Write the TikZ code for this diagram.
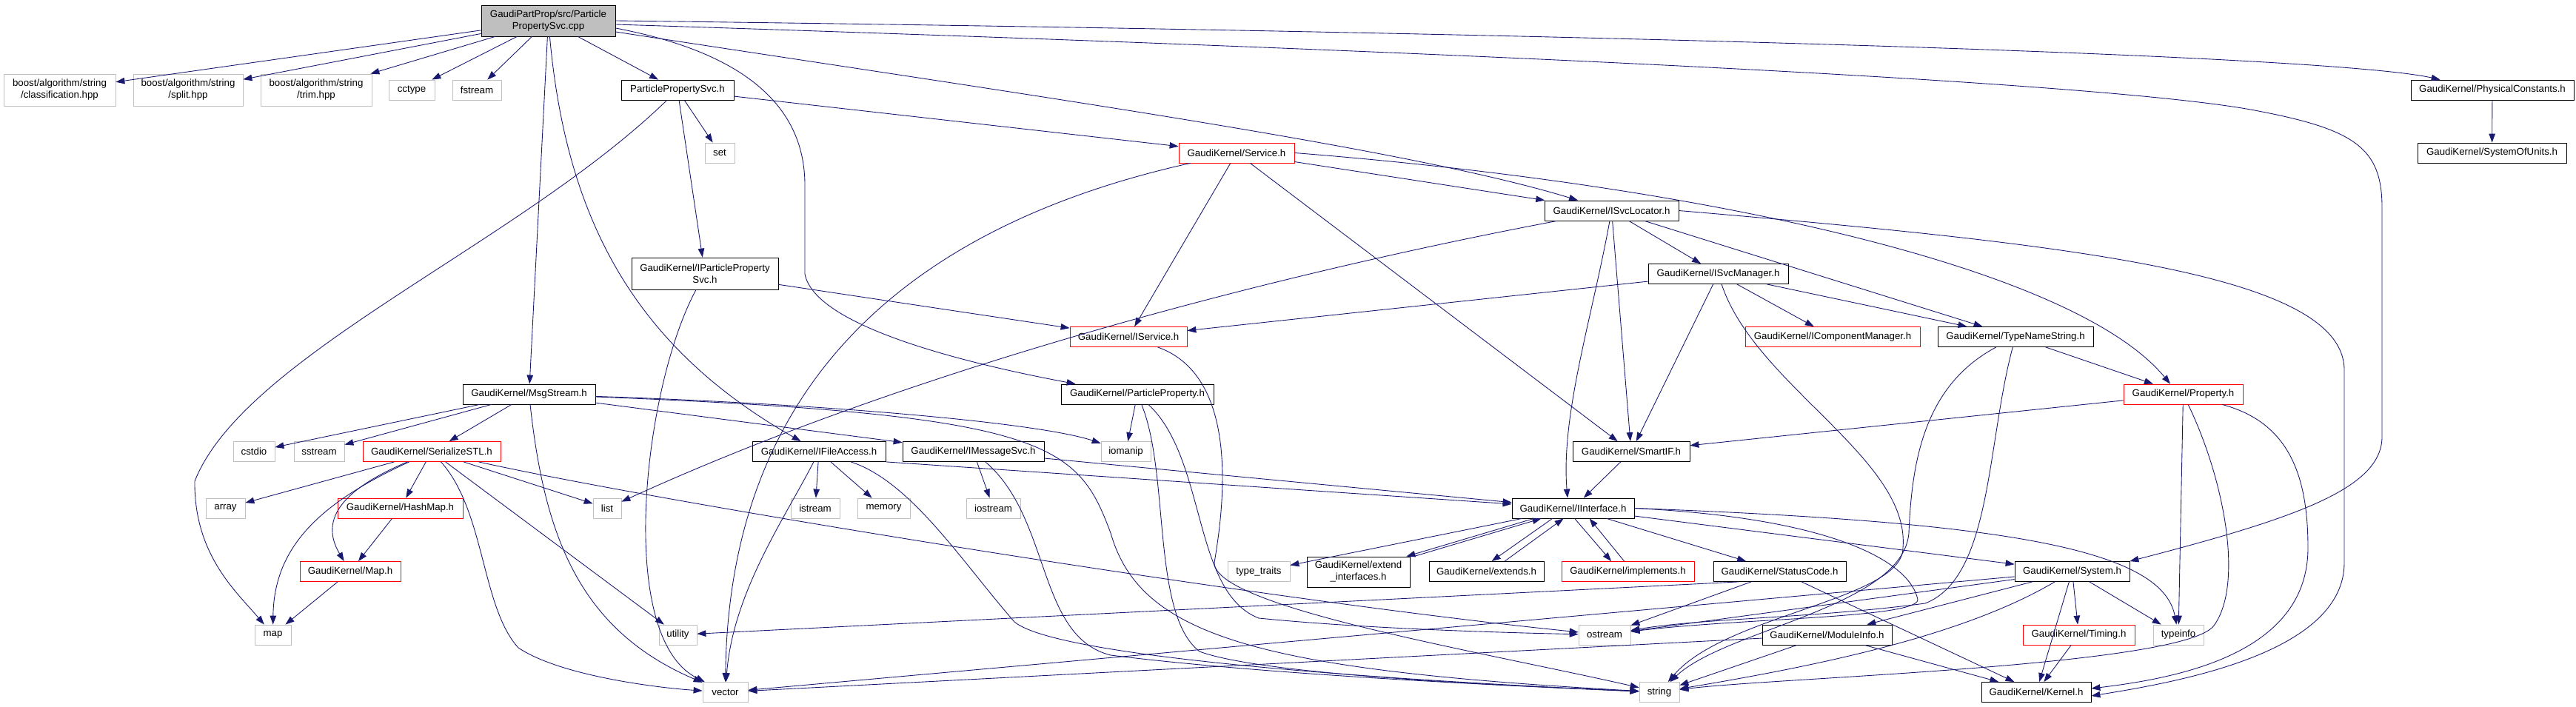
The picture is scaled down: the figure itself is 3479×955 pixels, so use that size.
\documentclass[tikz,border=0pt]{standalone}
\usepackage{fontspec}
\setmainfont{Liberation Sans}
\usetikzlibrary{arrows.meta}
\definecolor{navyedge}{RGB}{25,25,112}
\definecolor{graybox}{RGB}{191,191,191}

\begin{document}
\begin{tikzpicture}[x=0.02cm, y=-0.02cm, >={Triangle[length=0.24cm,width=0.17cm]},
    file/.style={draw=black, line width=0.45pt, inner sep=0pt, minimum height=0.54cm, align=center, font=\fontsize{7.55}{9.1}\selectfont},
    sysfile/.style={file, draw=graybox},
    trunc/.style={file, draw=red},
    edge/.style={->, draw=navyedge, line width=0.5pt}]
    \useasboundingbox (0,0) rectangle (3479,955);

    \node[file, fill=graybox, minimum width=3.62cm, minimum height=0.84cm] (main) at (740.5,28) {GaudiPartProp/src/Particle\\PropertySvc.cpp};
    \node[sysfile, minimum width=3.02cm, minimum height=0.86cm] (bcls) at (80.5,121.5) {boost/algorithm/string\\/classification.hpp};
    \node[sysfile, minimum width=2.96cm, minimum height=0.86cm] (bsplit) at (254,121.5) {boost/algorithm/string\\/split.hpp};
    \node[sysfile, minimum width=3.00cm, minimum height=0.86cm] (btrim) at (427,121.5) {boost/algorithm/string\\/trim.hpp};
    \node[sysfile, minimum width=1.24cm] (cctype) at (556,121.5) {cctype};
    \node[sysfile, minimum width=1.32cm] (fstream) at (644,121.5) {fstream};
    \node[file, minimum width=3.04cm] (ppsvch) at (915,121.5) {ParticlePropertySvc.h};
    \node[file, minimum width=4.40cm] (physconst) at (3366,121.5) {GaudiKernel/PhysicalConstants.h};
    \node[sysfile, minimum width=0.80cm] (set) at (972,206.5) {set};
    \node[trunc, minimum width=3.12cm] (service) at (1670,206.5) {GaudiKernel/Service.h};
    \node[file, minimum width=4.02cm] (sysunits) at (3365.5,206.5) {GaudiKernel/SystemOfUnits.h};
    \node[file, minimum width=3.62cm] (isvcloc) at (2176.5,284.5) {GaudiKernel/ISvcLocator.h};
    \node[file, minimum width=3.96cm, minimum height=0.86cm] (ippsvc) at (952,369.5) {GaudiKernel/IParticleProperty\\Svc.h};
    \node[file, minimum width=3.78cm] (isvcmgr) at (2320.5,370) {GaudiKernel/ISvcManager.h};
    \node[trunc, minimum width=3.16cm] (iservice) at (1524,455) {GaudiKernel/IService.h};
    \node[trunc, minimum width=4.72cm] (icompmgr) at (2475,455) {GaudiKernel/IComponentManager.h};
    \node[file, minimum width=4.20cm] (typename) at (2722,455) {GaudiKernel/TypeNameString.h};
    \node[file, minimum width=3.58cm] (msgstream) at (714.5,532.5) {GaudiKernel/MsgStream.h};
    \node[file, minimum width=4.12cm] (ppropert) at (1536,532.5) {GaudiKernel/ParticleProperty.h};
    \node[trunc, minimum width=3.22cm] (property) at (2948.5,532.5) {GaudiKernel/Property.h};
    \node[sysfile, minimum width=1.12cm] (cstdio) at (343,610) {cstdio};
    \node[sysfile, minimum width=1.36cm] (sstream) at (431,610) {sstream};
    \node[trunc, minimum width=3.72cm] (serialize) at (583,610) {GaudiKernel/SerializeSTL.h};
    \node[file, minimum width=3.60cm] (ifileacc) at (1106,610) {GaudiKernel/IFileAccess.h};
    \node[file, minimum width=3.82cm] (imsgsvc) at (1314.5,610) {GaudiKernel/IMessageSvc.h};
    \node[sysfile, minimum width=1.34cm] (iomanip) at (1520.5,610) {iomanip};
    \node[file, minimum width=3.16cm] (smartif) at (2203,610) {GaudiKernel/SmartIF.h};
    \node[sysfile, minimum width=1.06cm] (array) at (304.5,686.5) {array};
    \node[trunc, minimum width=3.38cm] (hashmap) at (540.5,686.5) {GaudiKernel/HashMap.h};
    \node[sysfile, minimum width=0.76cm] (list) at (820,686.5) {list};
    \node[sysfile, minimum width=1.32cm] (istream) at (1101,686.5) {istream};
    \node[sysfile, minimum width=1.42cm] (memory) at (1193.5,686.5) {memory};
    \node[sysfile, minimum width=1.46cm] (iostream) at (1341.5,686.5) {iostream};
    \node[file, minimum width=3.30cm] (iinterface) at (2124.5,686.5) {GaudiKernel/IInterface.h};
    \node[trunc, minimum width=2.72cm] (maph) at (473,772) {GaudiKernel/Map.h};
    \node[sysfile, minimum width=1.68cm] (typetraits) at (1700,772) {type\_traits};
    \node[file, minimum width=2.78cm, minimum height=0.82cm] (extif) at (1834.5,772.5) {GaudiKernel/extend\\\_interfaces.h};
    \node[file, minimum width=3.10cm] (extends) at (2007.5,772) {GaudiKernel/extends.h};
    \node[trunc, minimum width=3.58cm] (implements) at (2198.5,772) {GaudiKernel/implements.h};
    \node[file, minimum width=3.58cm] (statuscode) at (2403.5,772) {GaudiKernel/StatusCode.h};
    \node[file, minimum width=3.10cm] (system) at (2798.5,772) {GaudiKernel/System.h};
    \node[sysfile, minimum width=0.98cm] (stdmap) at (368.5,857.5) {map};
    \node[sysfile, minimum width=1.02cm] (utility) at (915.5,857.5) {utility};
    \node[sysfile, minimum width=1.40cm] (ostream) at (2167,857.5) {ostream};
    \node[file, minimum width=3.50cm] (moduleinfo) at (2467.5,857.5) {GaudiKernel/ModuleInfo.h};
    \node[trunc, minimum width=3.02cm] (timing) at (2807.5,857.5) {GaudiKernel/Timing.h};
    \node[sysfile, minimum width=1.36cm] (typeinfo) at (2942,857.5) {typeinfo};
    \node[sysfile, minimum width=1.22cm] (vector) at (979.5,935) {vector};
    \node[sysfile, minimum width=1.08cm] (string) at (2241,935) {string};
    \node[file, minimum width=2.96cm] (kernel) at (2750,935) {GaudiKernel/Kernel.h};

    \draw[edge] (main) -- (bcls);
    \draw[edge] (main) -- (bsplit);
    \draw[edge] (main) -- (btrim);
    \draw[edge] (main) -- (cctype);
    \draw[edge] (main) -- (fstream);
    \draw[edge] (main) -- (ppsvch);
    \draw[edge] (main) -- (msgstream);
    \draw[edge] (main) .. controls (765,300) and (860,470) .. (ifileacc);
    \draw[edge] ([yshift=-0.2cm]main.east) .. controls (1000,70) and (1087,140) .. (1087,250) -- (1087,370) .. controls (1100,440) and (1300,490) .. ([xshift=0.4cm]ppropert.north west);
    \draw[edge] ([yshift=-0.3cm]main.east) .. controls (1400,130) and (1900,200) .. (isvcloc);
    \draw[edge] (main.east) .. controls (2200,45) and (3150,75) .. ([xshift=0.8cm]physconst.north west);
    \draw[edge] ([yshift=-0.1cm]main.east) .. controls (2300,80) and (2900,120) .. (3050,150) .. controls (3180,175) and (3217,200) .. (3217,280) -- (3217,590) .. controls (3217,660) and (3100,700) .. (system.north east);
    \draw[edge] (physconst) -- (sysunits);

    \draw[edge] (ppsvch) -- (set);
    \draw[edge] (ppsvch) -- (ippsvc);
    \draw[edge] (ppsvch) -- (service);
    \draw[edge] (ppsvch) .. controls (700,330) and (330,480) .. (263,650) .. controls (262,750) and (320,800) .. (stdmap);
    \draw[edge] (ippsvc) -- (iservice);
    \draw[edge] (ippsvc) .. controls (870,520) and (830,860) .. (vector);

    \draw[edge] (service) -- (isvcloc);
    \draw[edge] (service) -- (iservice);
    \draw[edge] (service) .. controls (1250,300) and (985,500) .. (vector);
    \draw[edge] (service) -- (smartif);
    \draw[edge] (service.east) .. controls (2300,250) and (2800,360) .. ([xshift=-0.35cm]property.north);

    \draw[edge] (isvcloc) .. controls (1750,365) and (1250,490) .. (list);
    \draw[edge] (isvcloc) .. controls (2150,430) and (2108,560) .. ([xshift=-0.15cm]iinterface.north);
    \draw[edge] (isvcloc) -- (smartif);
    \draw[edge] (isvcloc) -- (isvcmgr);
    \draw[edge] (isvcloc) -- (typename);
    \draw[edge] (isvcloc.east) .. controls (2800,330) and (3166,370) .. (3166,500) -- (3166,760) .. controls (3166,880) and (2950,920) .. ([yshift=-0.1cm]kernel.east);

    \draw[edge] (isvcmgr) -- (iservice);
    \draw[edge] (isvcmgr) -- (smartif);
    \draw[edge] (isvcmgr) -- (icompmgr);
    \draw[edge] (isvcmgr) -- (typename);
    \draw[edge] (isvcmgr) .. controls (2370,520) and (2580,620) .. (2570,740) .. controls (2570,810) and (2330,830) .. (string);

    \draw[edge] (typename) -- (property);
    \draw[edge] (typename) .. controls (2600,520) and (2582,620) .. (2578,720) .. controls (2570,820) and (2330,850) .. (string);
    \draw[edge] (typename) .. controls (2683,600) and (2690,780) .. (2600,815) .. controls (2450,835) and (2300,835) .. (ostream);

    \draw[edge] (property) -- (smartif);
    \draw[edge] (property) -- (typeinfo);
    \draw[edge] (property) .. controls (3005,650) and (3030,790) .. (2990,845) .. controls (2950,900) and (2400,915) .. (string);
    \draw[edge] (property) .. controls (3090,570) and (3117,640) .. (3117,740) .. controls (3117,880) and (2950,915) .. ([yshift=0.1cm]kernel.east);

    \draw[edge] (smartif) -- (iinterface);
    \draw[edge] (iinterface) -- (typetraits);
    \draw[edge] ([xshift=0.6cm]iinterface.south west) -- ([xshift=-0.1cm]extif.north east);
    \draw[edge] ([xshift=0.1cm]extif.north east) -- ([xshift=0.8cm]iinterface.south west);
    \draw[edge] ([xshift=1.1cm]iinterface.south west) -- ([xshift=1.7cm]extends.north west);
    \draw[edge] ([xshift=2.05cm]extends.north west) -- ([xshift=1.4cm]iinterface.south west);
    \draw[edge] ([xshift=1.7cm]iinterface.south west) -- ([xshift=1.35cm]implements.north west);
    \draw[edge] ([xshift=1.7cm]implements.north west) -- ([xshift=2.1cm]iinterface.south west);
    \draw[edge] (iinterface) -- (statuscode);
    \draw[edge] (iinterface) -- (system);
    \draw[edge] (iinterface.east) .. controls (2700,705) and (2920,740) .. (typeinfo);
    \draw[edge] (iinterface.east) .. controls (2480,700) and (2580,760) .. (2590,810) .. controls (2590,835) and (2350,835) .. (ostream);

    \draw[edge] ([xshift=0.7cm]statuscode.south west) -- (utility);
    \draw[edge] (statuscode) -- (ostream);
    \draw[edge] (statuscode) -- (kernel);

    \draw[edge] (system) -- (kernel);
    \draw[edge] (system) -- (timing);
    \draw[edge] (system) -- (typeinfo);
    \draw[edge] (system) -- (moduleinfo);
    \draw[edge] (system) .. controls (2650,860) and (2450,900) .. (string);
    \draw[edge] (system) -- (ostream);
    \draw[edge] (system) -- (vector);
    \draw[edge] (moduleinfo) -- (vector);
    \draw[edge] (moduleinfo) -- (string);
    \draw[edge] (moduleinfo) -- (kernel);
    \draw[edge] (timing) -- (kernel);

    \draw[edge] (ppropert) -- (iomanip);
    \draw[edge] (ppropert) .. controls (1580,640) and (1555,830) .. (1620,880) .. controls (1700,910) and (2000,925) .. (string);
    \draw[edge] (ppropert) .. controls (1630,620) and (1610,800) .. (1700,835) .. controls (1850,850) and (2050,855) .. (ostream);
    \draw[edge] (iservice) .. controls (1680,510) and (1650,700) .. (1640,760) .. controls (1640,820) and (2000,880) .. (string);

    \draw[edge] (imsgsvc) -- (iostream);
    \draw[edge] (imsgsvc) -- (iinterface);
    \draw[edge] (imsgsvc) .. controls (1420,700) and (1400,860) .. (1500,885) .. controls (1700,910) and (2000,925) .. (string);

    \draw[edge] (ifileacc) -- (istream);
    \draw[edge] (ifileacc) -- (memory);
    \draw[edge] (ifileacc) .. controls (1060,700) and (990,800) .. (vector);
    \draw[edge] (ifileacc.south east) -- (iinterface);
    \draw[edge] (ifileacc) .. controls (1230,650) and (1300,760) .. (1370,840) .. controls (1430,890) and (1900,920) .. (string);

    \draw[edge] (msgstream) -- (cstdio);
    \draw[edge] (msgstream) -- (sstream);
    \draw[edge] (msgstream) -- (serialize);
    \draw[edge] (msgstream) -- (imsgsvc);
    \draw[edge] (msgstream) .. controls (1100,545) and (1400,570) .. (iomanip);
    \draw[edge] (msgstream) .. controls (1420,560) and (1455,600) .. (1500,720) .. controls (1540,860) and (1700,905) .. (string);
    \draw[edge] (msgstream) .. controls (735,720) and (780,850) .. (vector);

    \draw[edge] (serialize) -- (array);
    \draw[edge] (serialize) -- (hashmap);
    \draw[edge] (serialize) .. controls (465,660) and (430,700) .. (maph);
    \draw[edge] (serialize) .. controls (430,680) and (370,740) .. (stdmap);
    \draw[edge] (serialize) .. controls (655,690) and (650,820) .. (700,875) .. controls (760,915) and (900,930) .. (vector);
    \draw[edge] (serialize) -- (utility);
    \draw[edge] (serialize) -- (list);
    \draw[edge] ([xshift=-0.6cm]serialize.south east) .. controls (900,680) and (1700,810) .. (ostream);
    \draw[edge] (hashmap) -- (maph);
    \draw[edge] (maph) -- (stdmap);
\end{tikzpicture}
\end{document}
